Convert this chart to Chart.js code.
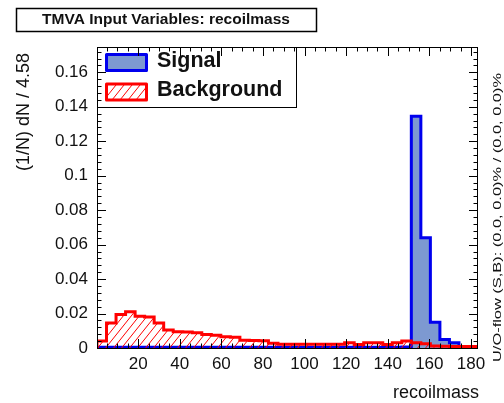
<!DOCTYPE html>
<html>
<head>
<meta charset="utf-8">
<script src="https://cdn.jsdelivr.net/npm/chart.js@4/dist/chart.umd.min.js"></script>
<style>
  html, body { margin: 0; padding: 0; background: #fff; }
  #wrap { position: relative; width: 504px; height: 403px; }
</style>
</head>
<body>
<div id="wrap"><canvas id="myChart" width="504" height="403"></canvas></div>
<script>
// binning of recoilmass (40 bins, width 4.58)
const X_MIN = 0.2;
const BIN_WIDTH = 4.58;
const N_BINS = 40;
const X_MAX = X_MIN + N_BINS * BIN_WIDTH;
const Y_MAX = 0.1747;

const X_TICKS = [20, 40, 60, 80, 100, 120, 140, 160, 180];
const Y_TICKS = [0, 0.02, 0.04, 0.06, 0.08, 0.1, 0.12, 0.14, 0.16];

// normalised bin contents
const SIGNAL = [
  0.0004, 0.0004, 0.0004, 0.0004, 0.0004, 0.0004, 0.0004, 0.0004, 0.0004, 0.0004,
  0.0004, 0.0004, 0.0004, 0.0004, 0.0004, 0.0004, 0.0004, 0.0004, 0.0004, 0.0004,
  0.0004, 0.0004, 0.0004, 0.0004, 0.0004, 0.0004, 0.0004, 0.0004, 0.0004, 0.0004,
  0.0004, 0.0004, 0.0006, 0.1345, 0.064, 0.015, 0.005, 0.003, 0.0005, 0.0002,
];
const BACKGROUND = [
  0.004, 0.0145, 0.0195, 0.021, 0.0185, 0.018, 0.0145, 0.0105, 0.0095, 0.0093,
  0.0088, 0.0078, 0.0074, 0.0065, 0.0062, 0.0045, 0.0044, 0.0042, 0.0028, 0.0022,
  0.0022, 0.0022, 0.0022, 0.0022, 0.0022, 0.0022, 0.003, 0.002, 0.003, 0.003,
  0.002, 0.003, 0.004, 0.003, 0.0025, 0.0012, 0.001, 0.0008, 0.0008, 0.0008,
];

const SIG_FILL = "#7d99d1";
const SIG_LINE = "#0000ee";
const BKG_LINE = "#ff0000";
const FONT = "'Liberation Sans', Arial, Helvetica, sans-serif";

// histogram outline as step points along the bin edges
const stepPoints = (values) => {
  const pts = [{ x: X_MIN, y: 0 }];
  values.forEach((v, i) => pts.push({ x: X_MIN + i * BIN_WIDTH, y: v }));
  pts.push({ x: X_MAX, y: values[values.length - 1] });
  pts.push({ x: X_MAX, y: 0 });
  return pts;
};

// red "/" hatch for the background
const makeHatch = () => {
  const w = 8, h = 10;
  const c = document.createElement("canvas");
  c.width = w;
  c.height = h;
  const g = c.getContext("2d");
  g.strokeStyle = BKG_LINE;
  g.lineWidth = 1;
  for (const dx of [-w, 0, w]) {
    g.beginPath();
    g.moveTo(dx, h);
    g.lineTo(dx + w, 0);
    g.stroke();
  }
  return g.createPattern(c, "repeat");
};

const ctx = document.getElementById("myChart").getContext("2d");
const hatch = makeHatch();

// frame, inward ticks, legend and text around the plot
const rootStyle = {
  id: "rootStyle",
  afterDatasetsDraw(chart) {
    const c = chart.ctx;
    const { left, top } = chart.chartArea;
    c.save();
    // legend box
    c.fillStyle = "#fff";
    c.fillRect(left, top, 199, 60);
    c.strokeStyle = "#000";
    c.lineWidth = 1;
    c.strokeRect(left + 0.5, top + 0.5, 199, 60);

    c.lineJoin = "round";
    c.lineWidth = 3;
    c.fillStyle = SIG_FILL;
    c.fillRect(106.5, 54.5, 40, 16);
    c.strokeStyle = SIG_LINE;
    c.strokeRect(106.5, 54.5, 40, 16);
    c.fillStyle = hatch;
    c.fillRect(106.5, 84, 40, 16);
    c.strokeStyle = BKG_LINE;
    c.strokeRect(106.5, 84, 40, 16);

    c.fillStyle = "#111";
    c.font = "bold 21.5px " + FONT;
    c.textBaseline = "middle";
    c.textAlign = "left";
    c.fillText("Signal", 157, 61);
    c.fillText("Background", 157, 90);
    c.restore();
  },
  afterDraw(chart) {
    const c = chart.ctx;
    const { left, right, top, bottom } = chart.chartArea;
    const xs = chart.scales.x;
    const ys = chart.scales.y;
    c.save();
    c.strokeStyle = "#000";
    c.lineWidth = 1;
    c.beginPath();
    for (let v = 5; v < X_MAX; v += 5) {
      const px = Math.round(xs.getPixelForValue(v)) + 0.5;
      const len = v % 20 === 0 ? 9 : 4.5;
      c.moveTo(px, bottom);
      c.lineTo(px, bottom - len);
      c.moveTo(px, top);
      c.lineTo(px, top + len);
    }
    for (let k = 1; k * 0.004 < Y_MAX; k++) {
      const py = Math.round(ys.getPixelForValue(k * 0.004)) + 0.5;
      const len = k % 5 === 0 ? 9 : 4.5;
      c.moveTo(left, py);
      c.lineTo(left + len, py);
      c.moveTo(right, py);
      c.lineTo(right - len, py);
    }
    c.stroke();
    c.strokeRect(left + 0.5, top + 0.5, right - left - 1, bottom - top);

    // title box
    c.fillStyle = "#fff";
    c.fillRect(16, 8, 301, 24);
    c.lineWidth = 1.5;
    c.strokeRect(16.5, 8.5, 300, 23);
    c.fillStyle = "#111";
    c.font = "bold 15.5px " + FONT;
    c.textAlign = "center";
    c.textBaseline = "middle";
    c.fillText("TMVA Input Variables: recoilmass", 166, 20);

    // axis titles
    c.font = "18px " + FONT;
    c.textAlign = "right";
    c.textBaseline = "alphabetic";
    c.fillText("recoilmass", 479, 398);

    c.save();
    c.translate(29, 53);
    c.rotate(-Math.PI / 2);
    c.textAlign = "right";
    c.fillText("(1/N) dN / 4.58", 0, 0);
    c.restore();

    // under/overflow note on the right edge
    const note = "U/O-flow (S,B): (0.0, 0.0)% / (0.0, 0.0)%";
    c.save();
    c.font = "11.5px " + FONT;
    const w = c.measureText(note).width;
    c.translate(501, 362);
    c.rotate(-Math.PI / 2);
    c.scale(289 / w, 1);
    c.textAlign = "left";
    c.fillText(note, 0, 0);
    c.restore();
    c.restore();
  },
};

const chart = new Chart(ctx, {
  type: "line",
  data: {
    datasets: [
      {
        label: "Background",
        data: stepPoints(BACKGROUND),
        stepped: true,
        fill: "origin",
        backgroundColor: hatch,
        borderColor: BKG_LINE,
        borderWidth: 3,
        pointRadius: 0,
        order: 0,
      },
      {
        label: "Signal",
        data: stepPoints(SIGNAL),
        stepped: true,
        fill: "origin",
        backgroundColor: SIG_FILL,
        borderColor: SIG_LINE,
        borderWidth: 3,
        pointRadius: 0,
        order: 1,
      },
    ],
  },
  options: {
    responsive: false,
    animation: false,
    layout: { padding: { left: 0, right: 26, top: 47, bottom: 0 } },
    plugins: {
      legend: { display: false },
      tooltip: { enabled: false },
    },
    scales: {
      x: {
        type: "linear",
        min: X_MIN,
        max: X_MAX,
        afterFit: (scale) => {
          scale.height = 55;
        },
        afterBuildTicks: (scale) => {
          scale.ticks = X_TICKS.map((v) => ({ value: v }));
        },
        grid: { display: false, drawTicks: false },
        border: { display: false },
        ticks: {
          color: "#111",
          padding: 6,
          maxRotation: 0,
          font: { family: FONT, size: 17 },
        },
      },
      y: {
        min: 0,
        max: Y_MAX,
        afterFit: (scale) => {
          scale.width = 97;
        },
        afterBuildTicks: (scale) => {
          scale.ticks = Y_TICKS.map((v) => ({ value: v }));
        },
        grid: { display: false, drawTicks: false },
        border: { display: false },
        ticks: {
          color: "#111",
          padding: 9,
          font: { family: FONT, size: 17 },
          callback: (v) => String(+v.toFixed(2)),
        },
      },
    },
  },
  plugins: [rootStyle],
});
</script>
</body>
</html>
